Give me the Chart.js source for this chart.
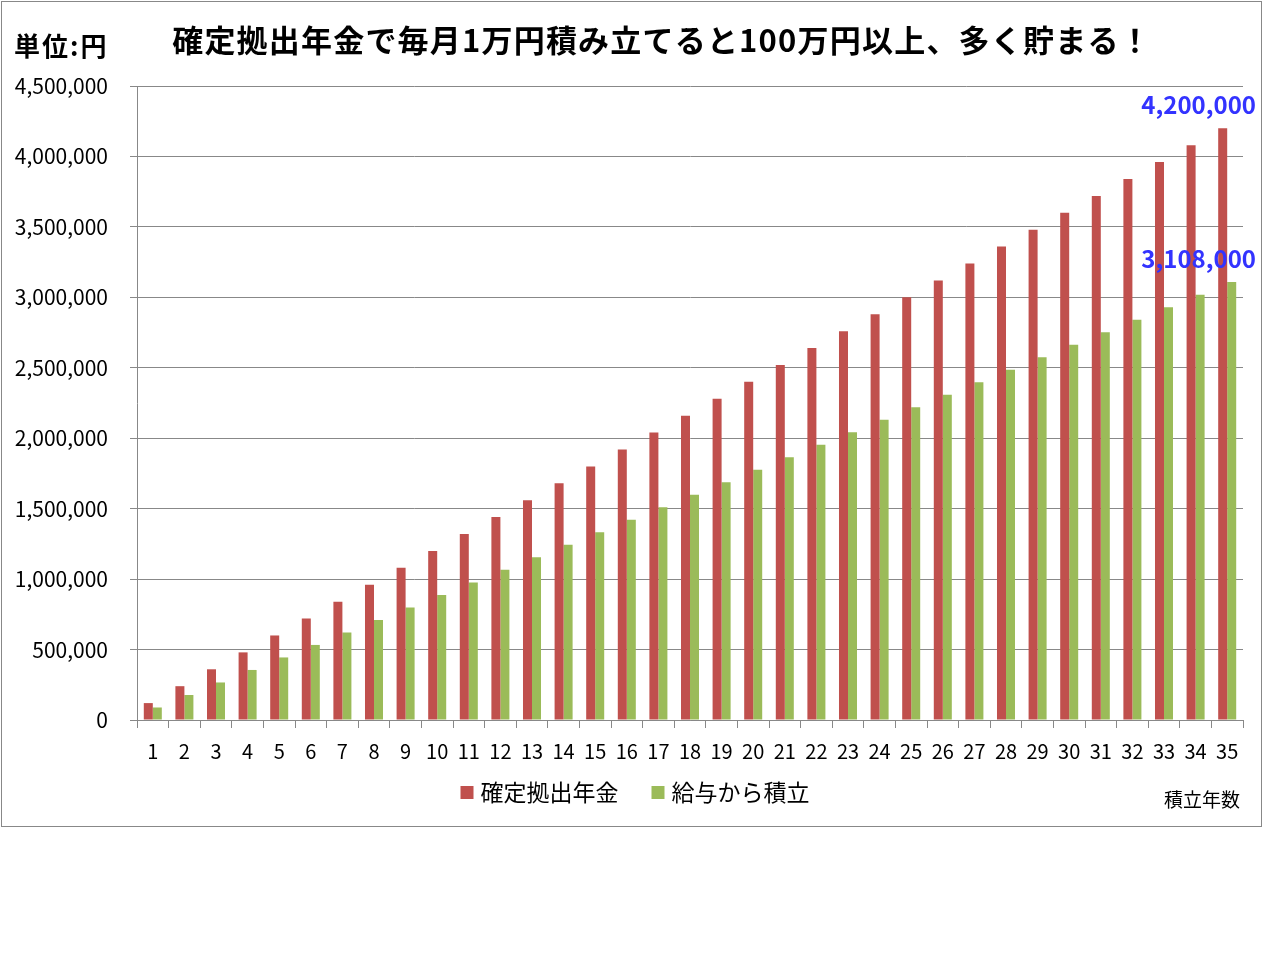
<!DOCTYPE html>
<html lang="ja">
<head>
    <meta charset="UTF-8">
    <title>確定拠出年金で毎月1万円積み立てると</title>
    <script src="https://cdn.jsdelivr.net/npm/chart.js"></script>
    <style>
        body { margin: 0; background: #fff; }
        .chart-container { position: relative; width: 1263px; height: 960px; }
    </style>
</head>
<body>
    <div class="chart-container">
        <canvas id="pensionChart"></canvas>
    </div>

    <script>
        const years = ["1","2","3","4","5","6","7","8","9","10","11","12","13","14","15","16","17","18","19","20",
                       "21","22","23","24","25","26","27","28","29","30","31","32","33","34","35"];
        const pensionValues = [120000,240000,360000,480000,600000,720000,840000,960000,1080000,1200000,
                               1320000,1440000,1560000,1680000,1800000,1920000,2040000,2160000,2280000,2400000,
                               2520000,2640000,2760000,2880000,3000000,3120000,3240000,3360000,3480000,3600000,
                               3720000,3840000,3960000,4080000,4200000];
        const salaryValues = [88800,177600,266400,355200,444000,532800,621600,710400,799200,888000,
                              976800,1065600,1154400,1243200,1332000,1420800,1509600,1598400,1687200,1776000,
                              1864800,1953600,2042400,2131200,2220000,2308800,2397600,2486400,2575200,2664000,
                              2752800,2841600,2930400,3019200,3108000];
        const seriesNames = ["確定拠出年金", "給与から積立"];
        const titleText = "確定拠出年金で毎月1万円積み立てると100万円以上、多く貯まる！";
        const unitText = "単位:円";
        const xAxisText = "積立年数";
        const calloutValues = [4200000, 3108000];

        const font = '"Noto Sans CJK JP", "Noto Sans", sans-serif';

        // frame, title, unit label, legend, axis label and the two callouts
        const decorations = {
            id: "decorations",
            beforeDraw(chart) {
                const ctx = chart.ctx;
                ctx.save();
                ctx.fillStyle = "#fff";
                ctx.fillRect(0, 0, chart.width, chart.height);
                ctx.strokeStyle = "#888";
                ctx.lineWidth = 1;
                ctx.strokeRect(1.5, 1.5, 1260, 825);
                ctx.restore();
            },
            afterDraw(chart) {
                const ctx = chart.ctx;
                const y = chart.scales.y;
                ctx.save();
                ctx.fillStyle = "#000";
                ctx.textBaseline = "middle";
                ctx.textAlign = "center";
                ctx.font = "bold 31px " + font;
                ctx.letterSpacing = "1.2px";
                ctx.fillText(titleText, 662, 40);
                ctx.textAlign = "left";
                ctx.font = "bold 26px " + font;
                ctx.letterSpacing = "2px";
                ctx.fillText(unitText, 14, 46);
                ctx.letterSpacing = "0px";

                // legend
                ctx.font = "23px " + font;
                const box = 13, gap = 7, between = 33;
                const items = chart.data.datasets.map(ds => ({
                    text: ds.label, color: ds.backgroundColor, w: box + gap + ctx.measureText(ds.label).width
                }));
                const total = items.reduce((s, it) => s + it.w, 0) + between * (items.length - 1);
                let lx = 635 - total / 2;
                items.forEach(it => {
                    ctx.fillStyle = it.color;
                    ctx.fillRect(lx, 786, box, box);
                    ctx.fillStyle = "#000";
                    ctx.fillText(it.text, lx + box + gap, 792);
                    lx += it.w + between;
                });

                ctx.textAlign = "right";
                ctx.font = "19px " + font;
                ctx.fillText(xAxisText, 1240, 800);

                ctx.fillStyle = "#3333ff";
                ctx.font = "bold 24px " + font;
                calloutValues.forEach(v => {
                    ctx.fillText(v.toLocaleString("en-US"), 1256, y.getPixelForValue(v) - 23);
                });
                ctx.restore();
            }
        };

        new Chart(document.getElementById("pensionChart"), {
            type: "bar",
            data: {
                labels: years,
                datasets: [{
                    label: seriesNames[0],
                    data: pensionValues,
                    backgroundColor: "#C0504D"
                }, {
                    label: seriesNames[1],
                    data: salaryValues,
                    backgroundColor: "#9BBB59"
                }]
            },
            options: {
                responsive: true,
                maintainAspectRatio: false,
                animation: false,
                layout: { padding: { left: 0, right: 20, top: 86, bottom: 190 } },
                datasets: { bar: { categoryPercentage: 0.57, barPercentage: 1.0 } },
                scales: {
                    x: {
                        grid: { display: true, drawOnChartArea: false, drawTicks: true, tickLength: 8, offset: true, color: "#888" },
                        border: { color: "#888" },
                        ticks: { color: "#000", font: { family: font, size: 20 }, padding: 11, maxRotation: 0, autoSkip: false },
                        afterFit: scale => { scale.height = 50; }
                    },
                    y: {
                        min: 0,
                        max: 4500000,
                        grid: { color: "#888", tickLength: 7 },
                        border: { color: "#888" },
                        ticks: {
                            stepSize: 500000,
                            color: "#000",
                            font: { family: font, size: 21 },
                            padding: 22,
                            callback: v => v.toLocaleString("en-US")
                        },
                        afterFit: scale => { scale.width = 137; }
                    }
                },
                plugins: {
                    legend: { display: false },
                    tooltip: { enabled: false }
                }
            },
            plugins: [decorations]
        });
    </script>
</body>
</html>
